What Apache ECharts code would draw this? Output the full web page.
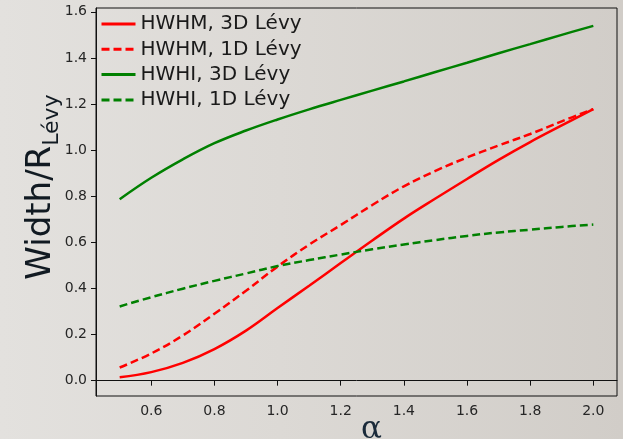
<!DOCTYPE html>
<html>
<head>
<meta charset="utf-8">
<script src="https://cdn.jsdelivr.net/npm/echarts@6/dist/echarts.min.js"></script>
<style>
html,body{margin:0;padding:0;}
body{width:623px;height:439px;background:linear-gradient(90deg,#e3e1de 0%,#dcd9d5 45%,#d1cdc8 100%);}
#chart{width:623px;height:439px;}
</style>
</head>
<body>
<div id="chart"></div>
<script>
// Data
const alpha = [0.5,0.6,0.7,0.8,0.9,1.0,1.1,1.2,1.3,1.4,1.5,1.6,1.7,1.8,1.9,2.0];
const hwhm3D = [0.015,0.037,0.077,0.137,0.217,0.315,0.412,0.51,0.608,0.703,0.79,0.875,0.958,1.035,1.107,1.178];
const hwhm1D = [0.057,0.118,0.196,0.29,0.39,0.495,0.59,0.675,0.762,0.843,0.91,0.968,1.02,1.07,1.125,1.178];
const hwhi3D = [0.787,0.88,0.96,1.03,1.085,1.133,1.177,1.218,1.258,1.298,1.339,1.379,1.42,1.46,1.5,1.539];
const hwhi1D = [0.322,0.362,0.399,0.433,0.465,0.497,0.523,0.547,0.57,0.591,0.61,0.628,0.643,0.655,0.667,0.677];
const xTicks = [0.6,0.8,1.0,1.2,1.4,1.6,1.8,2.0];
const yTicks = [0.0,0.2,0.4,0.6,0.8,1.0,1.2,1.4,1.6];
const seriesNames = ['HWHM, 3D Lévy','HWHM, 1D Lévy','HWHI, 3D Lévy','HWHI, 1D Lévy'];

const pairs = ys => alpha.map((a,i)=>[a,ys[i]]);
const mk = (name, ys, color, dashed) => ({
  name, type:'line', data:pairs(ys), smooth:0.4, symbol:'none', showSymbol:false,
  lineStyle:{color, width:2.5, type: dashed ? [8,4] : 'solid', cap:'butt'},
  itemStyle:{color}, emphasis:{disabled:true}, animation:false
});

const chart = echarts.init(document.getElementById('chart'), null, {renderer:'canvas'});
chart.setOption({
  backgroundColor:'transparent',
  animation:false,
  textStyle:{fontFamily:'DejaVu Sans'},
  grid:{left:96,right:6,top:8,bottom:43,show:true,borderColor:'#111',borderWidth:1,backgroundColor:'transparent',outerBoundsMode:'none',containLabel:false},
  legend:{
    orient:'vertical', left:95, top:9, itemWidth:34, itemHeight:14, itemGap:5.3,
    itemStyle:{opacity:0},
    lineStyle:{width:3},
    textStyle:{fontSize:20,lineHeight:20,color:'#1a1a1a',fontFamily:'DejaVu Sans'},
    data:seriesNames
  },
  xAxis:{
    type:'value', min:0.425, max:2.075,
    name:'α', nameLocation:'middle', nameGap:18, nameMoveOverlap:false,
    nameTextStyle:{fontSize:31,fontFamily:'DejaVu Serif',color:'#1a2a3a',padding:[0,0,0,30]},
    axisLine:{show:true,lineStyle:{color:'#111',width:1}},
    axisTick:{show:true,length:5,inside:false,customValues:xTicks,lineStyle:{color:'#111'}},
    axisLabel:{customValues:xTicks,margin:8,fontSize:14,color:'#262626',formatter:v=>v.toFixed(1)},
    splitLine:{show:false}
  },
  yAxis:{
    type:'value', min:-0.0665, max:1.6165,
    name:'{a|Width/R}{b|Lévy}', nameLocation:'middle', nameGap:33, nameRotate:90, nameMoveOverlap:false,
    nameTextStyle:{
      padding:[0,0,0,30],
      rich:{
        a:{fontSize:34,fontFamily:'DejaVu Sans',color:'#111a22',lineHeight:44,verticalAlign:'middle'},
        b:{fontSize:22,fontFamily:'DejaVu Sans',color:'#111a22',lineHeight:42,verticalAlign:'bottom'}
      }
    },
    axisLine:{show:true,lineStyle:{color:'#111',width:1}},
    axisTick:{show:true,length:5,inside:false,customValues:yTicks,lineStyle:{color:'#111'}},
    axisLabel:{customValues:yTicks,margin:9,fontSize:14,color:'#262626',formatter:v=>v.toFixed(1)},
    splitLine:{show:false}
  },
  series:[
    mk(seriesNames[0], hwhm3D, '#ff0000', false),
    mk(seriesNames[1], hwhm1D, '#ff0000', true),
    mk(seriesNames[2], hwhi3D, '#008000', false),
    mk(seriesNames[3], hwhi1D, '#008000', true)
  ]
});
</script>
</body>
</html>
